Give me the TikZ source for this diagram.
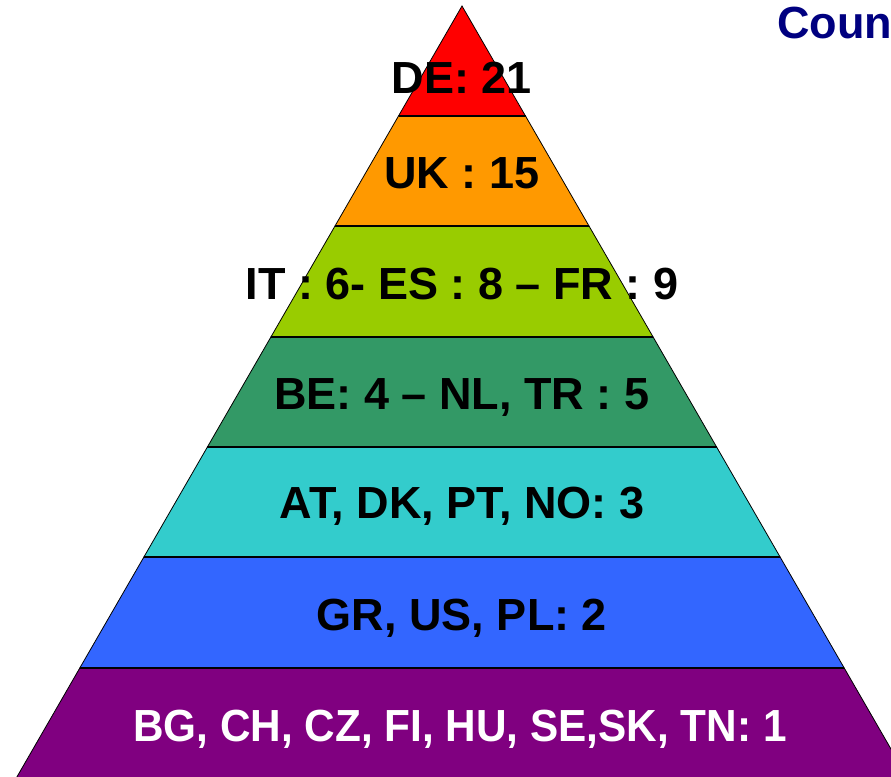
\documentclass[tikz,border=0pt]{standalone}
\usepackage{fontspec}
\setmainfont{Liberation Sans}
\definecolor{cRed}{HTML}{FF0000}
\definecolor{cOrange}{HTML}{FF9900}
\definecolor{cLime}{HTML}{99CC00}
\definecolor{cGreen}{HTML}{339966}
\definecolor{cTeal}{HTML}{33CCCC}
\definecolor{cBlue}{HTML}{3366FF}
\definecolor{cPurple}{HTML}{800080}
\definecolor{cNavy}{HTML}{000080}
\begin{document}
\begin{tikzpicture}[x=1pt,y=-1pt,
  layerbox/.style={draw=black, line width=0.8pt, line join=miter},
  sepline/.style={draw=black, line width=1.6pt},
  lbl/.style={font=\bfseries\fontsize{45}{54}\selectfont, inner sep=0pt, anchor=base},
  titletext/.style={font=\bfseries\fontsize{45}{54}\selectfont, text=cNavy, inner sep=0pt, anchor=base west}]
\useasboundingbox (0,0) rectangle (891,776);
\fill[white] (0,0) rectangle (891,776);
% layers
\path[layerbox, fill=cRed]    (462,6) -- (525.5,116) -- (398.5,116) -- cycle;
\path[layerbox, fill=cOrange] (398.5,116) -- (525.5,116) -- (589,226) -- (335,226) -- cycle;
\path[layerbox, fill=cLime]   (335,226) -- (589,226) -- (653.1,337) -- (270.9,337) -- cycle;
\path[layerbox, fill=cGreen]  (270.9,337) -- (653.1,337) -- (716.6,447) -- (207.4,447) -- cycle;
\path[layerbox, fill=cTeal]   (207.4,447) -- (716.6,447) -- (780.1,557) -- (143.9,557) -- cycle;
\path[layerbox, fill=cBlue]   (143.9,557) -- (780.1,557) -- (844.2,668) -- (79.8,668) -- cycle;
\path[layerbox, fill=cPurple] (79.8,668) -- (844.2,668) -- (915.8,792) -- (8.2,792) -- cycle;
% separators
\draw[sepline] (398.5,116) -- (525.5,116);
\draw[sepline] (335,226) -- (589,226);
\draw[sepline] (270.9,337) -- (653.1,337);
\draw[sepline] (207.4,447) -- (716.6,447);
\draw[sepline] (143.9,557) -- (780.1,557);
\draw[sepline] (79.8,668) -- (844.2,668);
% labels
\node[lbl] (de) at (462,93) {DE: 21};
\node[lbl] (uk) at (462,188) {UK : 15};
\node[lbl] (it) at (462,299) {IT : 6- ES : 8 – FR : 9};
\node[lbl] (be) at (462,409) {BE: 4 – NL, TR : 5};
\node[lbl] (at) at (462,518) {AT, DK, PT, NO: 3};
\node[lbl] (gr) at (462,630) {GR, US, PL: 2};
\node[lbl, text=white, xscale=0.94] (bg) at (460,741) {BG, CH, CZ, FI, HU, SE,SK, TN: 1};
% title (cut by page edge, as in the reference)
\node[titletext] (title) at (777,39) {Countries};
\end{tikzpicture}
\end{document}
